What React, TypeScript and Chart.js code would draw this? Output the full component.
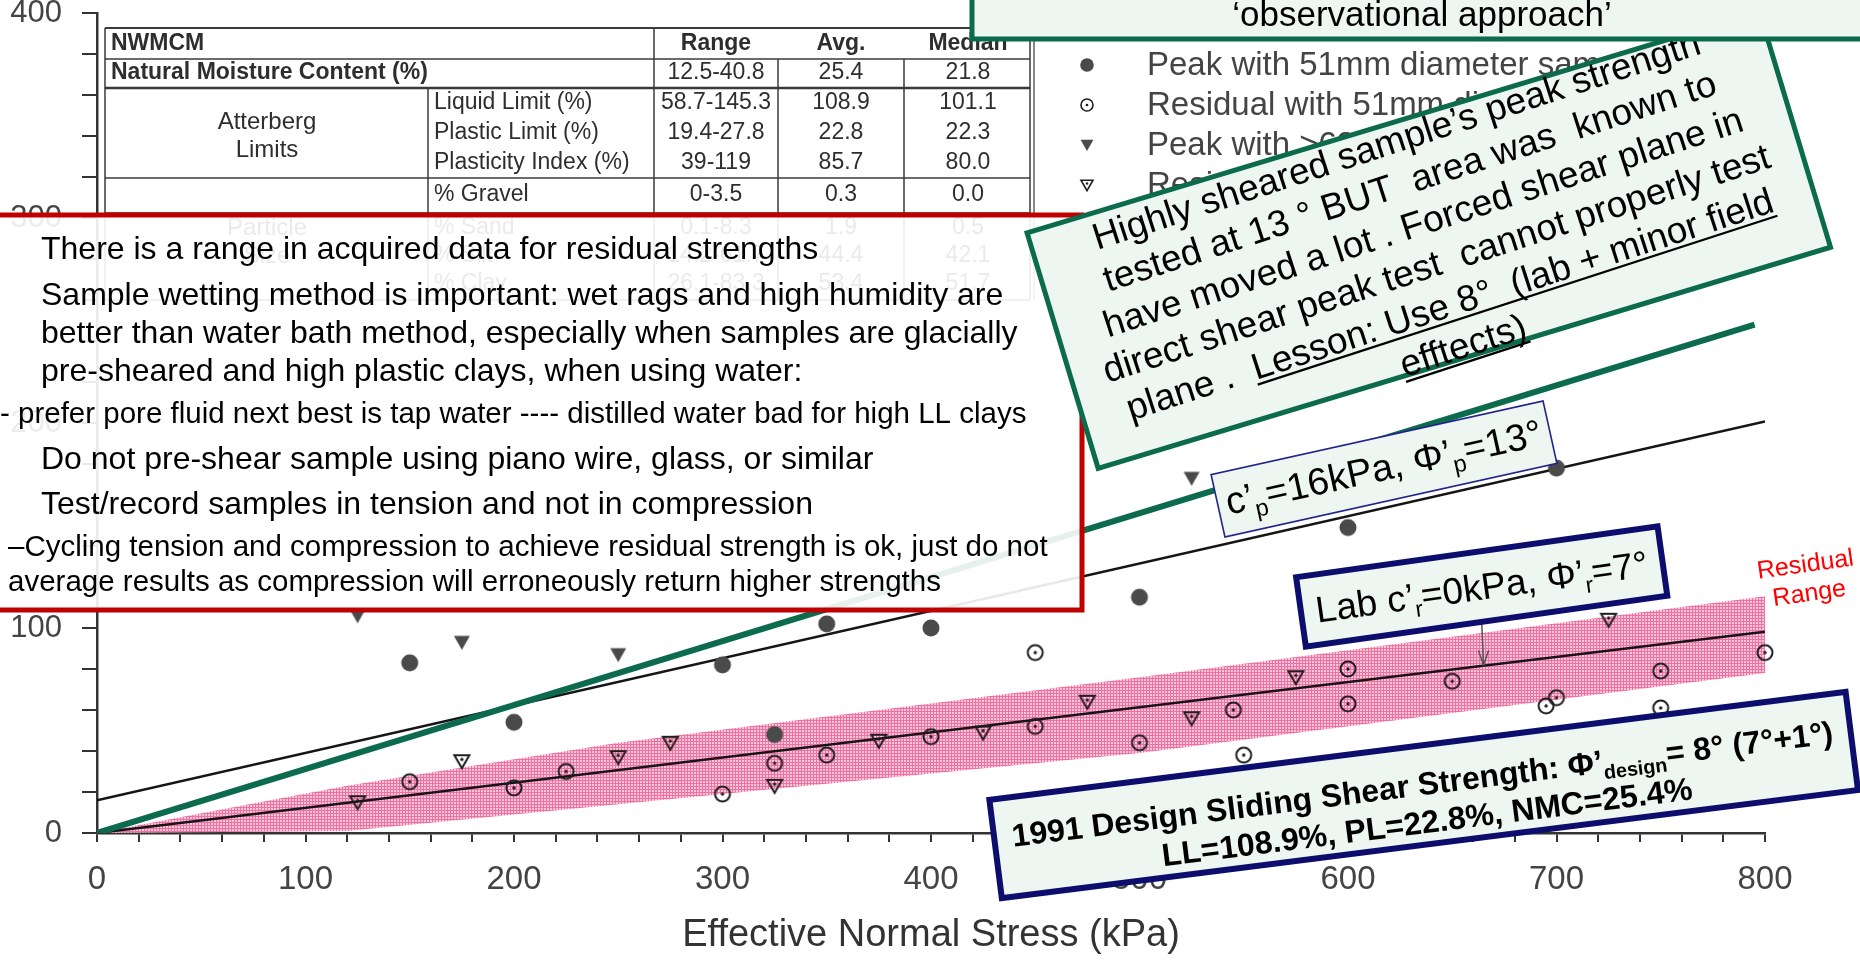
import React, { useEffect, useRef } from 'react';
import { Chart, registerables } from 'chart.js';

Chart.register(...registerables);

const FONT = '"Liberation Sans", Arial, Helvetica, sans-serif';

// ---------------- data (kPa) ----------------
const peak51X = [150, 200, 300, 325, 350, 400, 500, 600, 700];
const peak51Y = [83, 54, 82, 48, 102, 100, 115, 149, 178];

const resid51X = [150, 200, 225, 300, 325, 350, 400, 450, 450, 500, 545, 550, 600, 600, 650, 695, 700, 750, 750, 800];
const resid51Y = [25, 22, 30, 19, 34, 38, 47, 88, 52, 44, 60, 38, 80, 63, 74, 62, 66, 79, 61, 88];

const peakLargeX = [125, 175, 250, 525];
const peakLargeY = [106, 93, 87, 173];

const residLargeX = [125, 175, 250, 275, 325, 375, 425, 475, 525, 575, 725];
const residLargeY = [15, 35, 37, 44, 23, 45, 49, 64, 56, 76, 104];

// fitted envelopes
const peakFitX = [0, 800];
const peakFitY = [16, 200.7];
const residFitX = [0, 800];
const residFitY = [0, 98.2];
const greenX = [0, 795];
const greenY = [0, 248];

// residual range band
const bandX = [0, 120, 250, 500, 800];
const bandUpper = [0, 23, 44, 76, 115.5];
const bandLower = [0, 1, 14, 39, 78];

const xTickLabels = ['0', '100', '200', '300', '400', '500', '600', '700', '800'];
const yTickLabels = ['0', '100', '200', '300', '400'];

const arrowTargetX = 665;
const arrowTargetY = 81.7;

// table
const tableHeader = ['NWMCM', 'Range', 'Avg.', 'Median'];
const tableLabels = ['Natural Moisture Content (%)', 'Liquid Limit (%)', 'Plastic Limit (%)', 'Plasticity Index (%)', '% Gravel', '% Sand', '% Silt', '% Clay'];
const tableRange = ['12.5-40.8', '58.7-145.3', '19.4-27.8', '39-119', '0-3.5', '0.1-8.3', '14.2-61.7', '26.1-83.3'];
const tableAvg = ['25.4', '108.9', '22.8', '85.7', '0.3', '1.9', '44.4', '53.4'];
const tableMedian = ['21.8', '101.1', '22.3', '80.0', '0.0', '0.5', '42.1', '51.7'];

const legendLabels = [
  'Peak with 51mm diameter samples',
  'Residual with 51mm diameter samples',
  'Peak with >63mm diameter samples',
  'Residual with >63mm diameter samples',
];

const redLines = [
  'There is a range in acquired data for residual strengths',
  'Sample wetting method is important: wet rags and high humidity are',
  'better than water bath method, especially when samples are glacially',
  'pre-sheared and high plastic clays, when using water:',
  '- prefer pore fluid next best is tap water ---- distilled water bad for high LL clays',
  'Do not pre-shear sample using piano wire, glass, or similar',
  'Test/record samples in tension and not in compression',
  '–Cycling tension and compression to achieve residual strength is ok, just do not',
  'average results as compression will erroneously return higher strengths',
];

const greenLines = [
  'Highly sheared sample’s peak strength',
  'tested at 13 ° BUT  area was  known to',
  'have moved a lot . Forced shear plane in',
  'direct shear peak test  cannot properly test',
];

const pts = (xs: number[], ys: number[]) => xs.map((x, i) => ({ x, y: ys[i] }));

// ---------------- markers ----------------
function makeMarker(kind: string, scale = 1): HTMLCanvasElement {
  const size = 2 * Math.ceil(13 * scale);
  const c = document.createElement('canvas');
  c.width = size;
  c.height = size;
  const g = c.getContext('2d')!;
  g.translate(size / 2, size / 2);
  g.scale(scale, scale);
  g.lineWidth = 2;
  g.strokeStyle = '#1e1e1e';
  g.fillStyle = '#4a4a4a';
  if (kind === 'peakCircle') {
    g.beginPath();
    g.arc(0, 0, 8.5, 0, Math.PI * 2);
    g.fill();
  } else if (kind === 'residCircle') {
    g.beginPath();
    g.arc(0, 0, 7.5, 0, Math.PI * 2);
    g.stroke();
    g.fillStyle = '#1e1e1e';
    g.beginPath();
    g.arc(0, 0, 1.7, 0, Math.PI * 2);
    g.fill();
  } else if (kind === 'peakTri') {
    g.beginPath();
    g.moveTo(-8, -6.5);
    g.lineTo(8, -6.5);
    g.lineTo(0, 7.5);
    g.closePath();
    g.fill();
  } else {
    g.beginPath();
    g.moveTo(-7.5, -6);
    g.lineTo(7.5, -6);
    g.lineTo(0, 7);
    g.closePath();
    g.stroke();
    g.fillStyle = '#1e1e1e';
    g.beginPath();
    g.arc(0, -1.8, 1.6, 0, Math.PI * 2);
    g.fill();
  }
  return c;
}

function makeBandPattern(): CanvasPattern | string {
  const c = document.createElement('canvas');
  c.width = 3;
  c.height = 3;
  const g = c.getContext('2d')!;
  g.fillStyle = 'rgb(250,198,218)';
  g.fillRect(0, 0, 3, 3);
  g.fillStyle = 'rgb(240,112,160)';
  g.fillRect(0, 0, 3, 1);
  g.fillRect(0, 0, 1, 3);
  const p = g.createPattern(c, 'repeat');
  return p || 'rgba(240,130,175,0.8)';
}

// ---------------- drawing helpers ----------------
type Part = { t: string; sub?: boolean; u?: boolean };

function drawRich(ctx: CanvasRenderingContext2D, parts: Part[], x: number, y: number, size: number, weight: string, align: 'center' | 'left') {
  const widths: number[] = [];
  let total = 0;
  for (const p of parts) {
    const s = p.sub ? size * 0.62 : size;
    ctx.font = `${weight} ${s}px ${FONT}`;
    const w = ctx.measureText(p.t).width;
    widths.push(w);
    total += w;
  }
  let cx = align === 'center' ? x - total / 2 : x;
  ctx.textAlign = 'left';
  ctx.textBaseline = 'alphabetic';
  parts.forEach((p, i) => {
    const s = p.sub ? size * 0.62 : size;
    ctx.font = `${weight} ${s}px ${FONT}`;
    const yy = p.sub ? y + size * 0.22 : y;
    ctx.fillText(p.t, cx, yy);
    if (p.u) {
      ctx.save();
      ctx.lineWidth = Math.max(1.5, size * 0.06);
      ctx.strokeStyle = ctx.fillStyle as string;
      ctx.beginPath();
      ctx.moveTo(cx, yy + size * 0.13);
      ctx.lineTo(cx + widths[i], yy + size * 0.13);
      ctx.stroke();
      ctx.restore();
    }
    cx += widths[i];
  });
}

function rotBox(ctx: CanvasRenderingContext2D, cx: number, cy: number, w: number, h: number, deg: number, fill: string, stroke: string, lw: number, content?: () => void) {
  ctx.save();
  ctx.translate(cx, cy);
  ctx.rotate((deg * Math.PI) / 180);
  ctx.fillStyle = fill;
  ctx.fillRect(-w / 2, -h / 2, w, h);
  ctx.lineWidth = lw;
  ctx.strokeStyle = stroke;
  ctx.strokeRect(-w / 2, -h / 2, w, h);
  if (content) {
    ctx.fillStyle = '#000';
    content();
  }
  ctx.restore();
}

function line(ctx: CanvasRenderingContext2D, x1: number, y1: number, x2: number, y2: number, lw: number) {
  ctx.lineWidth = lw;
  ctx.beginPath();
  ctx.moveTo(x1, y1);
  ctx.lineTo(x2, y2);
  ctx.stroke();
}

const MINT = '#edf6f0';
const GREEN = '#0b6b4c';
const NAVY = '#0d0d6e';

function drawTable(ctx: CanvasRenderingContext2D) {
  ctx.save();
  ctx.strokeStyle = '#3a3a3a';
  const L = 105, R = 1030, T = 28, B = 300;
  line(ctx, L, T, R, T, 2);
  line(ctx, L, 59, R, 59, 1.5);
  line(ctx, L, 88, R, 88, 2.5);
  line(ctx, L, 178, R, 178, 1.5);
  line(ctx, L, 213, R, 213, 1.5);
  line(ctx, L, B, R, B, 1.5);
  line(ctx, L, T, L, B, 1.5);
  line(ctx, R, T, R, B, 1.5);
  line(ctx, R + 4, T, R + 4, B, 1.2);
  line(ctx, 654, T, 654, B, 1.5);
  line(ctx, 778, 59, 778, B, 1.5);
  line(ctx, 904, 59, 904, B, 1.5);
  line(ctx, 428, 88, 428, B, 1.5);

  ctx.fillStyle = '#2e2e2e';
  ctx.textBaseline = 'middle';
  const rowY = [73, 103, 133, 163, 195, 228, 256, 284];
  ctx.font = `bold 23px ${FONT}`;
  ctx.textAlign = 'left';
  ctx.fillText(tableHeader[0], 111, 44);
  ctx.textAlign = 'center';
  ctx.fillText(tableHeader[1], 716, 44);
  ctx.fillText(tableHeader[2], 841, 44);
  ctx.fillText(tableHeader[3], 968, 44);
  ctx.textAlign = 'left';
  ctx.font = `bold 23px ${FONT}`;
  ctx.fillText(tableLabels[0], 111, rowY[0]);
  ctx.font = `23px ${FONT}`;
  for (let i = 1; i < tableLabels.length; i++) ctx.fillText(tableLabels[i], 434, rowY[i]);
  ctx.textAlign = 'center';
  ctx.font = `24px ${FONT}`;
  ctx.fillText('Atterberg', 267, 122);
  ctx.fillText('Limits', 267, 150);
  ctx.fillText('Particle', 267, 228);
  ctx.fillText('Size', 267, 256);
  ctx.font = `23px ${FONT}`;
  for (let i = 0; i < tableRange.length; i++) {
    ctx.fillText(tableRange[i], 716, rowY[i]);
    ctx.fillText(tableAvg[i], 841, rowY[i]);
    ctx.fillText(tableMedian[i], 968, rowY[i]);
  }
  ctx.restore();
}

function drawLegend(ctx: CanvasRenderingContext2D, markers: HTMLCanvasElement[]) {
  ctx.save();
  const ys = [65, 105, 145, 185];
  ctx.font = `33px ${FONT}`;
  ctx.fillStyle = '#444';
  ctx.textAlign = 'left';
  ctx.textBaseline = 'middle';
  ys.forEach((y, i) => {
    const m = markers[i];
    ctx.drawImage(m, 1087 - m.width / 2, y - m.height / 2);
    ctx.fillText(legendLabels[i], 1147, y + 1);
  });
  ctx.restore();
}

function drawRedBox(ctx: CanvasRenderingContext2D) {
  ctx.save();
  ctx.fillStyle = 'rgba(255,255,255,0.9)';
  ctx.fillRect(-10, 215, 1092, 395);
  ctx.strokeStyle = '#c00000';
  ctx.lineWidth = 5;
  ctx.strokeRect(-10, 215, 1092, 395);
  ctx.fillStyle = '#000';
  ctx.textAlign = 'left';
  ctx.textBaseline = 'alphabetic';
  const ys = [250, 296, 334, 372, 415, 460, 505, 548, 583];
  const xs = [41, 41, 41, 41, 0, 41, 41, 8, 8];
  const sizes = [32, 32, 32, 32, 29.5, 32, 32, 29.5, 29.5];
  redLines.forEach((t, i) => {
    ctx.font = `${sizes[i]}px ${FONT}`;
    ctx.fillText(t, xs[i], ys[i] + sizes[i] * 0.27);
  });
  ctx.restore();
}

function drawGreenBox(ctx: CanvasRenderingContext2D) {
  rotBox(ctx, 1428.8, 240.1, 765, 246, -16.8, MINT, GREEN, 5, () => {
    ctx.rotate((-1.2 * Math.PI) / 180);
    const size = 37;
    const base = [-103, -59.8, -16.6, 26.6, 69.8, 113].map((v) => v + size * 0.27);
    greenLines.forEach((t, i) => drawRich(ctx, [{ t }], 0, base[i], size, 'normal', 'center'));
    drawRich(ctx, [{ t: 'plane .  ' }, { t: 'Lesson: Use 8°  (lab + minor field', u: true }], 0, base[4], size, 'normal', 'center');
    drawRich(ctx, [{ t: 'efftects)', u: true }], 0, base[5], size, 'normal', 'center');
  });
}

function drawTopBox(ctx: CanvasRenderingContext2D) {
  ctx.save();
  ctx.fillStyle = MINT;
  ctx.fillRect(972, -10, 900, 49);
  ctx.strokeStyle = GREEN;
  ctx.lineWidth = 5;
  ctx.strokeRect(972, -10, 900, 49);
  ctx.fillStyle = '#000';
  ctx.font = `35px ${FONT}`;
  ctx.textAlign = 'center';
  ctx.textBaseline = 'alphabetic';
  ctx.fillText('‘observational approach’', 1422, 26);
  ctx.restore();
}

function drawLabels(chart: any) {
  const ctx: CanvasRenderingContext2D = chart.ctx;
  rotBox(ctx, 1384, 469, 340, 64, -12.5, MINT, '#23238c', 1.6, () => {
    drawRich(ctx, [{ t: 'c’' }, { t: 'p', sub: true }, { t: '=16kPa, Φ’' }, { t: 'p', sub: true }, { t: '=13°' }], 0, 11, 38, 'normal', 'center');
  });
  const xs = chart.scales.x;
  const ys = chart.scales.y;
  const tx = xs.getPixelForValue(arrowTargetX);
  const ty = ys.getPixelForValue(arrowTargetY);
  ctx.save();
  ctx.strokeStyle = '#555';
  line(ctx, tx - 2, 618, tx, ty, 1.5);
  line(ctx, tx, ty, tx - 5, ty - 15, 1.5);
  line(ctx, tx, ty, tx + 5, ty - 15, 1.5);
  ctx.restore();
  rotBox(ctx, 1481.7, 586.5, 365, 70, -8, MINT, NAVY, 6, () => {
    drawRich(ctx, [{ t: 'Lab c’' }, { t: 'r', sub: true }, { t: '=0kPa, Φ’' }, { t: 'r', sub: true }, { t: '=7°' }], 0, 13, 37, 'normal', 'center');
  });
  rotBox(ctx, 1423.7, 795, 863, 99, -7.2, MINT, NAVY, 6, () => {
    drawRich(ctx, [{ t: '1991 Design Sliding Shear Strength: Φ’' }, { t: 'design', sub: true }, { t: '= 8° (7°+1°)' }], 0, 0, 32, 'bold', 'center');
    drawRich(ctx, [{ t: 'LL=108.9%, PL=22.8%, NMC=25.4%' }], 0, 38, 32, 'bold', 'center');
  });
  ctx.save();
  ctx.translate(1807, 577);
  ctx.rotate((-8 * Math.PI) / 180);
  ctx.fillStyle = '#ff0000';
  drawRich(ctx, [{ t: 'Residual' }], 0, -5, 25, 'normal', 'center');
  drawRich(ctx, [{ t: 'Range' }], 0, 24, 25, 'normal', 'center');
  ctx.restore();
}

export default function App() {
  const ref = useRef<HTMLCanvasElement>(null);

  useEffect(() => {
    document.body.style.margin = '0';
    const canvas = ref.current!;
    const mPeakC = makeMarker('peakCircle');
    const mResC = makeMarker('residCircle');
    const mPeakT = makeMarker('peakTri');
    const mResT = makeMarker('residTri');
    const legendMarkers = [makeMarker('peakCircle', 0.8), makeMarker('residCircle', 0.8), makeMarker('peakTri', 0.8), makeMarker('residTri', 0.8)];
    const pattern = makeBandPattern();

    const overlay = {
      id: 'overlay',
      afterDraw(chart: any) {
        const ctx: CanvasRenderingContext2D = chart.ctx;
        drawTable(ctx);
        drawLegend(ctx, legendMarkers);
        drawRedBox(ctx);
        drawGreenBox(ctx);
        drawTopBox(ctx);
        drawLabels(chart);
      },
    };

    const markerDs = (label: string, data: any[], style: HTMLCanvasElement) => ({
      label,
      data,
      showLine: false,
      pointStyle: style,
      pointRadius: 9,
      clip: false as any,
      borderColor: '#333',
      backgroundColor: '#333',
    });
    const lineDs = (label: string, data: any[], color: string, width: number) => ({
      label,
      data,
      showLine: true,
      pointRadius: 0,
      borderColor: color,
      borderWidth: width,
      fill: false,
      tension: 0,
    });

    const chart = new Chart(canvas, {
      type: 'line',
      data: {
        datasets: [
          lineDs('green', pts(greenX, greenY), GREEN, 6),
          markerDs('peak51', pts(peak51X, peak51Y), mPeakC),
          markerDs('resid51', pts(resid51X, resid51Y), mResC),
          markerDs('peakLarge', pts(peakLargeX, peakLargeY), mPeakT),
          markerDs('residLarge', pts(residLargeX, residLargeY), mResT),
          lineDs('peakFit', pts(peakFitX, peakFitY), '#151515', 2.5),
          lineDs('residFit', pts(residFitX, residFitY), '#151515', 2.5),
          {
            label: 'bandUpper',
            data: pts(bandX, bandUpper),
            showLine: true,
            pointRadius: 0,
            borderWidth: 0,
            borderColor: 'rgba(0,0,0,0)',
            backgroundColor: pattern as any,
            fill: '+1',
            tension: 0,
          },
          {
            label: 'bandLower',
            data: pts(bandX, bandLower),
            showLine: true,
            pointRadius: 0,
            borderWidth: 0,
            borderColor: 'rgba(0,0,0,0)',
            fill: false,
            tension: 0,
          },
        ] as any,
      },
      options: {
        responsive: false,
        maintainAspectRatio: false,
        devicePixelRatio: 1,
        animation: false,
        events: [],
        layout: { padding: { left: 0, right: 95, top: 13, bottom: 0 } },
        plugins: {
          legend: { display: false },
          tooltip: { enabled: false },
          filler: { drawTime: 'beforeDatasetsDraw' } as any,
        },
        scales: {
          x: {
            type: 'linear',
            min: 0,
            max: 800,
            afterFit: (s: any) => {
              s.height = 130;
              s.paddingLeft = 0;
              s.paddingRight = 0;
            },
            ticks: {
              stepSize: 20,
              autoSkip: false,
              maxRotation: 0,
              padding: 18,
              color: '#444',
              font: { family: FONT, size: 33 },
              callback: (v: any) => (Number(v) % 100 === 0 ? xTickLabels[Number(v) / 100] : ''),
            },
            grid: { drawOnChartArea: false, drawTicks: true, tickLength: 9, color: '#333', lineWidth: 2 },
            border: { display: true, color: '#333', width: 2.5 },
            title: {
              display: true,
              text: 'Effective Normal Stress (kPa)',
              color: '#333',
              font: { family: FONT, size: 38 },
              padding: { top: 0, bottom: 5 },
            },
          },
          y: {
            type: 'linear',
            min: 0,
            max: 400,
            afterFit: (s: any) => {
              s.width = 97;
              s.paddingTop = 0;
              s.paddingBottom = 0;
            },
            ticks: {
              stepSize: 20,
              autoSkip: false,
              padding: 20,
              color: '#444',
              font: { family: FONT, size: 31 },
              callback: (v: any) => (Number(v) % 100 === 0 ? yTickLabels[Number(v) / 100] : ''),
            },
            grid: { drawOnChartArea: false, drawTicks: true, tickLength: 15, color: '#333', lineWidth: 2 },
            border: { display: true, color: '#333', width: 2.5 },
          },
        },
      },
      plugins: [overlay],
    } as any);

    return () => chart.destroy();
  }, []);

  return (
    <div style={{ position: 'absolute', left: 0, top: 0, width: 1860, height: 963, background: '#fff', overflow: 'hidden' }}>
      <canvas ref={ref} width={1860} height={963} style={{ width: 1860, height: 963, display: 'block' }} />
    </div>
  );
}
